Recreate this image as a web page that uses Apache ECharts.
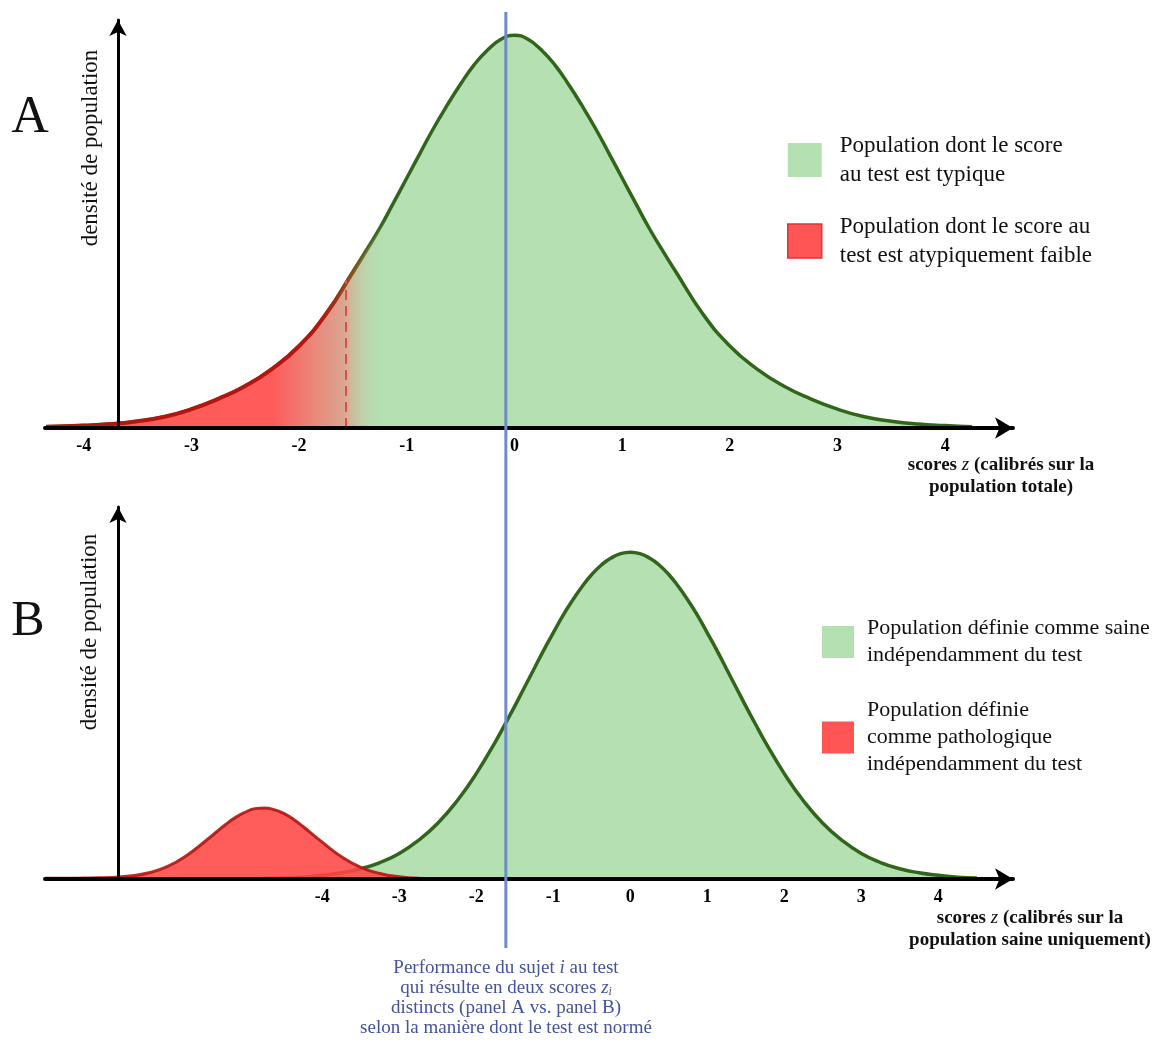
<!DOCTYPE html>
<html>
<head>
<meta charset="utf-8">
<script src="https://cdn.jsdelivr.net/npm/echarts@6/dist/echarts.min.js"></script>
<style>
  html, body { margin: 0; padding: 0; background: #fff; }
  #main { width: 1175px; height: 1052px; }
</style>
</head>
<body>
<div id="main"></div>
<script>
// panel A : z scores calibrated on the whole population
const zA = [-4.35, -4, -3.75, -3.5, -3.25, -3, -2.75, -2.5, -2.25, -2, -1.75,
  -1.5, -1.375, -1.25, -1.125, -1, -0.875, -0.75, -0.625, -0.5, -0.375, -0.25, -0.125,
  0,
  0.125, 0.25, 0.375, 0.5, 0.625, 0.75, 0.875, 1, 1.125, 1.25, 1.375, 1.5,
  1.75, 2, 2.25, 2.5, 2.75, 3, 3.25, 3.5, 3.75, 4, 4.25];
const densA = [0.003, 0.006, 0.010, 0.017, 0.028, 0.047, 0.073, 0.105, 0.148, 0.205, 0.285,
  0.390, 0.444, 0.500, 0.562, 0.625, 0.688, 0.750, 0.807, 0.860, 0.908, 0.945, 0.972,
  0.982,
  0.972, 0.945, 0.908, 0.860, 0.807, 0.750, 0.688, 0.625, 0.562, 0.500, 0.444, 0.390,
  0.285, 0.205, 0.148, 0.105, 0.073, 0.047, 0.028, 0.017, 0.010, 0.006, 0.003];

// panel B : healthy population (green) and pathological population (red)
const zB = [-4.75, -4.5, -4.25, -4, -3.75, -3.5, -3.25, -3, -2.75, -2.5, -2.25, -2,
  -1.75, -1.625, -1.5, -1.375, -1.25, -1.125, -1, -0.875, -0.75, -0.625, -0.5, -0.375, -0.25, -0.125,
  0,
  0.125, 0.25, 0.375, 0.5, 0.625, 0.75, 0.875, 1, 1.125, 1.25, 1.375, 1.5, 1.625, 1.75,
  2, 2.25, 2.5, 2.75, 3, 3.25, 3.5, 3.75, 4, 4.25, 4.5];
const densB = [0.002, 0.003, 0.005, 0.010, 0.017, 0.028, 0.045, 0.070, 0.106, 0.153, 0.214, 0.289,
  0.377, 0.425, 0.474, 0.525, 0.576, 0.627, 0.675, 0.722, 0.764, 0.802, 0.835, 0.861, 0.880, 0.892,
  0.896,
  0.892, 0.880, 0.861, 0.835, 0.802, 0.764, 0.722, 0.675, 0.627, 0.576, 0.525, 0.474, 0.425, 0.377,
  0.289, 0.214, 0.153, 0.106, 0.070, 0.045, 0.028, 0.017, 0.010, 0.005, 0.003];
const zR = [-7.6, -7.25, -7, -6.75, -6.5, -6.25, -6, -5.75, -5.5, -5.25, -5.125, -5, -4.875, -4.75,
  -4.625, -4.5, -4.375, -4.25, -4, -3.75, -3.5, -3.25, -3, -2.75];
const densR = [0.002, 0.002, 0.003, 0.004, 0.008, 0.017, 0.035, 0.066, 0.107, 0.150, 0.169, 0.183, 0.193, 0.195,
  0.190, 0.180, 0.164, 0.144, 0.101, 0.061, 0.032, 0.015, 0.006, 0.002];

const tickValues = [-4, -3, -2, -1, 0, 1, 2, 3, 4];
const cutA = -1.57;        // dashed threshold, panel A
const cutAHeight = 0.37;
const subjectZ = -0.08;    // subject i, on the panel A scale

const legendA = ['Population dont le score\nau test est typique', 'Population dont le score au\ntest est atypiquement faible'];
const legendB = ['Population définie comme saine\nindépendamment du test', 'Population définie\ncomme pathologique\nindépendamment du test'];

const GREEN = '#b4e0b2', RED = '#ff5b5b', DGREEN = '#31661a', DRED = '#b3160e', BLUE = '#6e8cc6';
const FONT = 'Liberation Serif';

function pairs(xs, ys) {
  return xs.map(function (x, i) { return [x, ys[i]]; });
}

let serieA = pairs(zA, densA);
let tailA = serieA.filter(function (p) { return p[0] <= -0.75; });
let t0 = tailA[0][0], t1 = tailA[tailA.length - 1][0];
function off(z) { return (z - t0) / (t1 - t0); }

function xAxisOf(grid, min, max) {
  return {
    gridIndex: grid, type: 'value', min: min, max: max, z: 5,
    axisLine: { show: true, onZero: false, symbol: ['none', 'arrow'], symbolSize: [16, 18], lineStyle: { color: '#000', width: 4 } },
    axisTick: { show: false },
    splitLine: { show: false },
    axisLabel: { customValues: tickValues, margin: 9, color: '#000', fontFamily: FONT, fontWeight: 'bold', fontSize: 18 }
  };
}
function yAxisOf(grid) {
  return {
    gridIndex: grid, type: 'value', min: 0, max: 1.02, offset: -73, z: 5,
    axisLine: { show: true, onZero: false, symbol: ['none', 'arrow'], symbolSize: [13, 16], lineStyle: { color: '#000', width: 3 } },
    axisTick: { show: false },
    axisLabel: { show: false },
    splitLine: { show: false }
  };
}

var myChart = echarts.init(document.getElementById('main'));

var option = {
  animation: false,
  backgroundColor: '#fff',
  grid: [
    { left: 45, top: 20, width: 968, height: 408 },
    { left: 45, top: 507, width: 968, height: 372 },
    { left: 45, top: 12, width: 968, height: 936 }
  ],
  xAxis: [
    xAxisOf(0, -4.36, 4.63),
    xAxisOf(1, -7.6, 4.97),
    { gridIndex: 2, type: 'value', min: -4.36, max: 4.63, show: false }
  ],
  yAxis: [
    yAxisOf(0),
    yAxisOf(1),
    { gridIndex: 2, type: 'value', min: 0, max: 1, show: false }
  ],
  legend: [
    {
      left: 787, top: 131, orient: 'vertical', padding: 0, icon: 'rect', selectedMode: false,
      itemWidth: 34, itemHeight: 34, itemGap: 23,
      textStyle: { fontFamily: FONT, fontSize: 23, lineHeight: 29, color: '#111', padding: [0, 0, 0, 13] },
      data: [
        { name: legendA[0], itemStyle: { color: GREEN, borderWidth: 0 } },
        { name: legendA[1], itemStyle: { color: '#ff5555', borderColor: '#e0323c', borderWidth: 1.5 } }
      ]
    },
    {
      left: 822, top: 615, orient: 'vertical', padding: 0, icon: 'rect', selectedMode: false,
      itemWidth: 32, itemHeight: 32, itemGap: 28,
      textStyle: { fontFamily: FONT, fontSize: 22, lineHeight: 27, color: '#111', padding: [0, 0, 0, 8] },
      data: [
        { name: legendB[0], itemStyle: { color: GREEN, borderWidth: 0 } },
        { name: legendB[1], itemStyle: { color: '#ff5555', borderWidth: 0 } }
      ]
    }
  ],
  series: [
    {
      name: legendA[0], type: 'line', xAxisIndex: 0, yAxisIndex: 0, smooth: true, symbol: 'none', z: 2,
      data: serieA,
      itemStyle: { color: GREEN },
      lineStyle: { color: DGREEN, width: 3.5 },
      areaStyle: { color: GREEN, opacity: 1 }
    },
    {
      name: legendA[1], type: 'line', xAxisIndex: 0, yAxisIndex: 0, smooth: true, symbol: 'none', z: 3,
      data: tailA,
      itemStyle: { color: RED },
      lineStyle: {
        width: 4,
        color: {
          type: 'linear', x: 0, y: 0, x2: 1, y2: 0, colorStops: [
            { offset: 0, color: DRED },
            { offset: off(-1.8), color: DRED },
            { offset: off(-1.5), color: 'rgba(130,80,20,0.85)' },
            { offset: off(-1.25), color: 'rgba(49,102,26,0)' },
            { offset: 1, color: 'rgba(49,102,26,0)' }
          ]
        }
      },
      areaStyle: {
        opacity: 1,
        color: {
          type: 'linear', x: 0, y: 0, x2: 1, y2: 0, colorStops: [
            { offset: 0, color: RED },
            { offset: off(-2.25), color: RED },
            { offset: off(-1.6), color: 'rgba(222,160,140,0.95)' },
            { offset: off(-1.2), color: 'rgba(180,224,178,0)' },
            { offset: 1, color: 'rgba(180,224,178,0)' }
          ]
        }
      },
      markLine: {
        silent: true, symbol: ['none', 'none'], label: { show: false },
        lineStyle: { color: '#e5484d', type: [10, 6], width: 2 },
        data: [[{ coord: [cutA, 0] }, { coord: [cutA, cutAHeight] }]]
      }
    },
    {
      name: legendB[0], type: 'line', xAxisIndex: 1, yAxisIndex: 1, smooth: true, symbol: 'none', z: 2,
      data: pairs(zB, densB),
      itemStyle: { color: GREEN },
      lineStyle: { color: DGREEN, width: 3.5 },
      areaStyle: { color: GREEN, opacity: 1 }
    },
    {
      name: legendB[1], type: 'line', xAxisIndex: 1, yAxisIndex: 1, smooth: true, symbol: 'none', z: 3,
      data: pairs(zR, densR),
      itemStyle: { color: RED },
      lineStyle: { color: DRED, width: 3, opacity: 0.9 },
      areaStyle: { color: '#ff4545', opacity: 0.88 }
    },
    {
      name: 'sujet i', type: 'line', xAxisIndex: 2, yAxisIndex: 2, symbol: 'none', z: 10, silent: true,
      data: [[subjectZ, 0], [subjectZ, 1]],
      lineStyle: { color: BLUE, width: 3 }
    }
  ],
  graphic: [
    { type: 'text', x: 30, y: 118, style: { text: 'A', fontFamily: FONT, fontSize: 52, fill: '#111', align: 'center', verticalAlign: 'middle' } },
    { type: 'text', x: 28, y: 622, style: { text: 'B', fontFamily: FONT, fontSize: 50, fill: '#111', align: 'center', verticalAlign: 'middle' } },
    { type: 'text', x: 91, y: 148, rotation: Math.PI / 2, style: { text: 'densité de population', fontFamily: FONT, fontSize: 23, fill: '#111', align: 'center', verticalAlign: 'middle' } },
    { type: 'text', x: 90, y: 632, rotation: Math.PI / 2, style: { text: 'densité de population', fontFamily: FONT, fontSize: 23, fill: '#111', align: 'center', verticalAlign: 'middle' } },
    {
      type: 'text', x: 1001, y: 476,
      style: {
        text: '{b|scores }{z|z}{b| (calibrés sur la}\n{b|population totale)}',
        align: 'center', verticalAlign: 'middle', fill: '#111',
        rich: {
          b: { fontFamily: FONT, fontWeight: 'bold', fontSize: 19, lineHeight: 22, fill: '#111' },
          z: { fontFamily: FONT, fontStyle: 'italic', fontSize: 19, lineHeight: 22, fill: '#111' }
        }
      }
    },
    {
      type: 'text', x: 1030, y: 929,
      style: {
        text: '{b|scores }{z|z}{b| (calibrés sur la}\n{b|population saine uniquement)}',
        align: 'center', verticalAlign: 'middle', fill: '#111',
        rich: {
          b: { fontFamily: FONT, fontWeight: 'bold', fontSize: 19, lineHeight: 22, fill: '#111' },
          z: { fontFamily: FONT, fontStyle: 'italic', fontSize: 19, lineHeight: 22, fill: '#111' }
        }
      }
    },
    {
      type: 'text', x: 506, y: 998,
      style: {
        text: '{n|Performance du sujet }{i|i}{n| au test}\n{n|qui résulte en deux scores }{i|z}{s|i}\n{n|distincts (panel A vs. panel B)}\n{n|selon la manière dont le test est normé}',
        align: 'center', verticalAlign: 'middle', fill: '#45539a',
        rich: {
          n: { fontFamily: FONT, fontSize: 19, lineHeight: 20, fill: '#45539a' },
          i: { fontFamily: FONT, fontStyle: 'italic', fontSize: 19, lineHeight: 20, fill: '#45539a' },
          s: { fontFamily: FONT, fontStyle: 'italic', fontSize: 12, lineHeight: 20, verticalAlign: 'bottom', fill: '#45539a' }
        }
      }
    }
  ]
};

myChart.setOption(option);
</script>
</body>
</html>
